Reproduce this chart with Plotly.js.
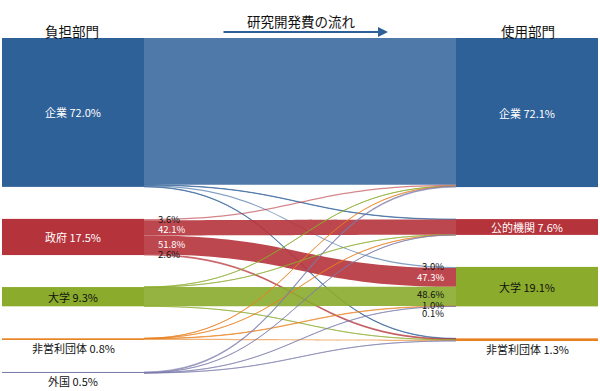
<!DOCTYPE html>
<html><head><meta charset="utf-8">
<script src="https://cdn.plot.ly/plotly-3.0.1.min.js"></script>
<style>html,body{margin:0;padding:0;background:#fff}#chart{width:600px;height:391px}</style>
</head><body><div id="chart"></div>
<script>
// ---- data ----
const sourceNames = ['企業','政府','大学','非営利団体','外国'];
const sourceShares = ['72.0%','17.5%','9.3%','0.8%','0.5%'];
const targetNames = ['企業','公的機関','大学','非営利団体'];
const targetShares = ['72.1%','7.6%','19.1%','1.3%'];
// flows in % of total R&D; order of targets: 企業, 公的機関, 大学, 非営利団体
const flowKigyo   = [71.00, 0.20, 0.57, 0.23];
const flowSeifu   = [0.63, 7.37, 9.06, 0.44];
const flowDaigaku = [0.02, 0.02, 9.25, 0.02];
const flowHieiri  = [0.05, 0.03, 0.19, 0.53];
const flowGaikoku = [0.40, 0.03, 0.02, 0.05];
const seifuOutShares = ['3.6%','42.1%','51.8%','2.6%'];
const daigakuInShares = ['3.0%','47.3%','48.6%','1.0%','0.1%'];

// ---- styles ----
const W = 600, H = 391, M = {l: 2, r: 3, t: 38, b: 18};
const PW = W - M.l - M.r, PH = H - M.t - M.b;
const PAD = 32, THICK = 142;
const FONT = '"Noto Sans CJK JP", "Noto Sans", sans-serif';
const srcColors = ['#2f6199', '#b5333b', '#8aab2b', '#e8801f', '#7c7cab'];
const tgtColors = ['#2f6199', '#b5333b', '#8aab2b', '#e8801f'];
const bandAlpha = [0.85, 0.9, 0.9, 0.9, 0.9];
const srcLabelColors = ['#fff', '#fff', '#111', '#111', '#111'];
const tgtLabelColors = ['#fff', '#fff', '#111', '#111'];
const seifuLabelColors = ['#111', '#fff', '#fff', '#111'];
const seifuLabelShift = [-1, 1, -1, -1];
const daigakuLabelColors = ['#111', '#fff', '#111', '#111', '#111'];
const daigakuLabelShift = [-1, 0, -2, -1, 7];

function rgba(hex, a) {
  const n = parseInt(hex.slice(1), 16);
  return `rgba(${n >> 16},${(n >> 8) & 255},${n & 255},${a})`;
}

const flows = [flowKigyo, flowSeifu, flowDaigaku, flowHieiri, flowGaikoku];
const nS = sourceNames.length, nT = targetNames.length;
const srcVal = flows.map(r => r.reduce((a, b) => a + b, 0));
const tgtVal = targetNames.map((_, j) => flows.reduce((a, r) => a + r[j], 0));
const sum = a => a.reduce((x, y) => x + y, 0);
const ky = Math.min((PH - (nS - 1) * PAD) / sum(srcVal), (PH - (nT - 1) * PAD) / sum(tgtVal));

function stack(vals) {
  let t = 0; const tops = [], hs = [];
  vals.forEach(v => { const h = v * ky; tops.push(t); hs.push(h); t += h + PAD; });
  return {tops, hs};
}
const S = stack(srcVal), T = stack(tgtVal);
const xL = (73 - M.l) / PW, xR = (527 - M.l) / PW;

const nodeX = [], nodeY = [], nodeColor = [], nodeLabel = [];
for (let i = 0; i < nS; i++) { nodeX.push(xL); nodeY.push((S.tops[i] + S.hs[i] / 2) / PH); nodeColor.push(srcColors[i]); nodeLabel.push(''); }
for (let j = 0; j < nT; j++) { nodeX.push(xR); nodeY.push((T.tops[j] + T.hs[j] / 2) / PH); nodeColor.push(tgtColors[j]); nodeLabel.push(''); }

const lsrc = [], ltgt = [], lval = [], lcol = [];
for (let i = 0; i < nS; i++) for (let j = 0; j < nT; j++) {
  lsrc.push(i); ltgt.push(nS + j); lval.push(flows[i][j]);
  lcol.push(rgba(srcColors[i], flows[i][j] > 1 ? bandAlpha[i] : 0.6));
}

// pixel -> paper
const px = p => (p - M.l) / PW;
const py = p => (H - M.b - p) / PH;
const base = {xref: 'paper', yref: 'paper', showarrow: false, xanchor: 'center', yanchor: 'middle'};

const ann = [];
ann.push(Object.assign({}, base, {text: '負担部門', x: px(72), y: py(31), font: {family: FONT, size: 13.5, color: '#111'}}));
ann.push(Object.assign({}, base, {text: '使用部門', x: px(528), y: py(31), font: {family: FONT, size: 13.5, color: '#111'}}));
ann.push(Object.assign({}, base, {text: '研究開発費の流れ', x: px(301), y: py(21), font: {family: FONT, size: 13.5, color: '#111'}}));
ann.push({text: ' ', xref: 'paper', yref: 'paper', x: px(388), y: py(32), ax: -166, ay: 0, showarrow: true,
  arrowhead: 2, arrowsize: 1, arrowwidth: 2, arrowcolor: '#2f6199', standoff: 0, startstandoff: 0,
  font: {size: 1}});

function nodeLabelAnn(name, share, xPix, top, h, color) {
  const thin = h < 5;
  return Object.assign({}, base, {text: name + ' ' + share, x: px(xPix),
    y: py(M.t + (thin ? top + h + 8 : top + h / 2)),
    font: {family: FONT, size: 11, color: thin ? '#111' : color}});
}
for (let i = 0; i < nS; i++) ann.push(nodeLabelAnn(sourceNames[i], sourceShares[i], 73, S.tops[i], S.hs[i], srcLabelColors[i]));
for (let j = 0; j < nT; j++) ann.push(nodeLabelAnn(targetNames[j], targetShares[j], 527, T.tops[j], T.hs[j], tgtLabelColors[j]));

// 政府 outgoing shares (left), stacked in target order
let acc = S.tops[1];
flowSeifu.forEach((v, j) => {
  const h = v * ky;
  ann.push(Object.assign({}, base, {text: seifuOutShares[j], x: px(156), xanchor: 'left',
    y: py(M.t + acc + h / 2 + seifuLabelShift[j]),
    font: {family: FONT, size: 9.5, color: seifuLabelColors[j]}}));
  acc += h;
});
// 大学 incoming shares (right), stacked in source order
acc = T.tops[2];
flows.forEach((r, i) => {
  const h = r[2] * ky;
  ann.push(Object.assign({}, base, {text: daigakuInShares[i], x: px(446), xanchor: 'right',
    y: py(M.t + acc + h / 2 + daigakuLabelShift[i]),
    font: {family: FONT, size: 9.5, color: daigakuLabelColors[i]}}));
  acc += h;
});

const trace = {
  type: 'sankey', arrangement: 'fixed', orientation: 'h',
  domain: {x: [0, 1], y: [0, 1]},
  hoverinfo: 'none',
  node: {label: nodeLabel, x: nodeX, y: nodeY, color: nodeColor, pad: PAD, thickness: THICK,
    line: {width: 0}, hoverinfo: 'none'},
  link: {source: lsrc, target: ltgt, value: lval, color: lcol,
    line: {width: 0}, hoverinfo: 'none'}
};

Plotly.newPlot('chart', [trace], {
  width: W, height: H, margin: M, paper_bgcolor: '#fff', plot_bgcolor: '#fff',
  font: {family: FONT}, annotations: ann, showlegend: false
}, {displayModeBar: false, staticPlot: true});
</script></body></html>
